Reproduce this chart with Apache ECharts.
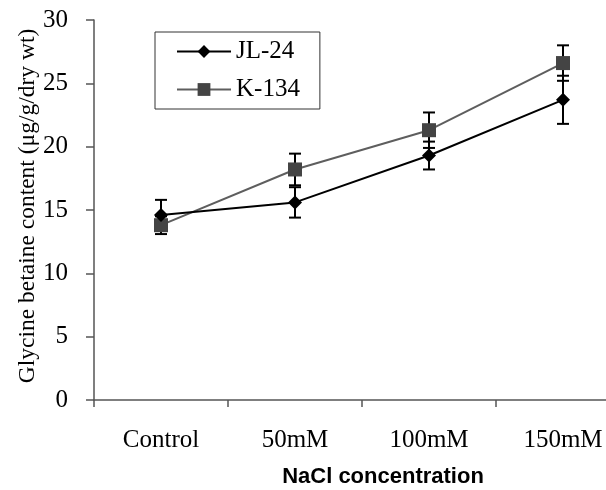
<!DOCTYPE html>
<html>
<head>
<meta charset="utf-8">
<script src="https://cdn.jsdelivr.net/npm/echarts@6/dist/echarts.min.js"></script>
<style>html,body{margin:0;padding:0;background:#fff;}#c{width:606px;height:490px;}</style>
</head>
<body>
<div id="c"></div>
<script>
var categories = ['Control', '50mM', '100mM', '150mM'];
var jl24 = [14.6, 15.6, 19.3, 23.7];
var jl24Err = [1.2, 1.2, 1.1, 1.9];
var k134 = [13.8, 18.2, 21.3, 26.6];
var k134Err = [0.7, 1.25, 1.4, 1.4];
var yTicks = [0, 5, 10, 15, 20, 25, 30];

function errData(vals, errs) {
  return vals.map(function (v, i) { return [i, v - errs[i], v + errs[i]]; });
}
function errSeries(name, vals, errs) {
  return {
    type: 'custom', name: name + '_err', silent: true, z: 3,
    data: errData(vals, errs),
    encode: { x: 0, y: [1, 2] },
    renderItem: function (params, api) {
      var lo = api.coord([api.value(0), api.value(1)]);
      var hi = api.coord([api.value(0), api.value(2)]);
      var hw = 6;
      var st = { stroke: '#000', lineWidth: 2 };
      return { type: 'group', children: [
        { type: 'line', shape: { x1: lo[0], y1: lo[1], x2: hi[0], y2: hi[1] }, style: st },
        { type: 'line', shape: { x1: lo[0] - hw, y1: lo[1], x2: lo[0] + hw, y2: lo[1] }, style: st },
        { type: 'line', shape: { x1: hi[0] - hw, y1: hi[1], x2: hi[0] + hw, y2: hi[1] }, style: st }
      ]};
    }
  };
}

var chart = echarts.init(document.getElementById('c'), null, { renderer: 'canvas' });
chart.setOption({
  animation: false,
  grid: { left: 94, right: -24, top: 20, bottom: 90, containLabel: false, outerBoundsMode: 'none' },
  legend: {
    left: 155, top: 32, orient: 'vertical',
    data: ['JL-24', 'K-134'],
    itemWidth: 54, itemHeight: 16, itemGap: 13,
    padding: [7, 20, 7, 21],
    borderColor: '#333', borderWidth: 1,
    textStyle: { fontFamily: 'Liberation Serif', fontSize: 25, color: '#000', lineHeight: 24 }
  },
  xAxis: {
    type: 'category', data: categories, boundaryGap: true,
    name: 'NaCl concentration', nameLocation: 'middle', nameGap: 66, nameMoveOverlap: false,
    nameTextStyle: { fontFamily: 'Liberation Sans', fontWeight: 'bold', fontSize: 22, color: '#000', padding: [0, 0, 0, 42] },
    axisLine: { lineStyle: { color: '#555', width: 1.5 } },
    axisTick: { show: true, length: 7, lineStyle: { color: '#555', width: 1.5 } },
    axisLabel: { fontFamily: 'Liberation Serif', fontSize: 25, color: '#000', margin: 28 }
  },
  yAxis: {
    type: 'value', min: 0, max: 30, interval: 5,
    name: 'Glycine betaine content (μg/g/dry wt)', nameLocation: 'middle', nameGap: 54, nameMoveOverlap: false,
    nameTextStyle: { fontFamily: 'Liberation Serif', fontSize: 23.5, color: '#000', padding: [0, 0, 0, 8] },
    axisLine: { show: true, lineStyle: { color: '#555', width: 1.5 } },
    axisTick: { show: true, length: 8, lineStyle: { color: '#555', width: 1.5 } },
    splitLine: { show: false },
    axisLabel: { fontFamily: 'Liberation Serif', fontSize: 25, color: '#000', margin: 26,
      formatter: function (v) { return yTicks.indexOf(v) >= 0 ? String(v) : ''; } }
  },
  series: [
    errSeries('K-134', k134, k134Err),
    errSeries('JL-24', jl24, jl24Err),
    {
      name: 'K-134', type: 'line', data: k134, z: 4,
      symbol: 'rect', symbolSize: 14, showSymbol: true,
      lineStyle: { color: '#5e5e5e', width: 2 },
      itemStyle: { color: '#444', borderWidth: 0 }
    },
    {
      name: 'JL-24', type: 'line', data: jl24, z: 5,
      symbol: 'diamond', symbolSize: 14, showSymbol: true,
      lineStyle: { color: '#000', width: 2 },
      itemStyle: { color: '#000', borderWidth: 0 }
    }
  ]
});
</script>
</body>
</html>
